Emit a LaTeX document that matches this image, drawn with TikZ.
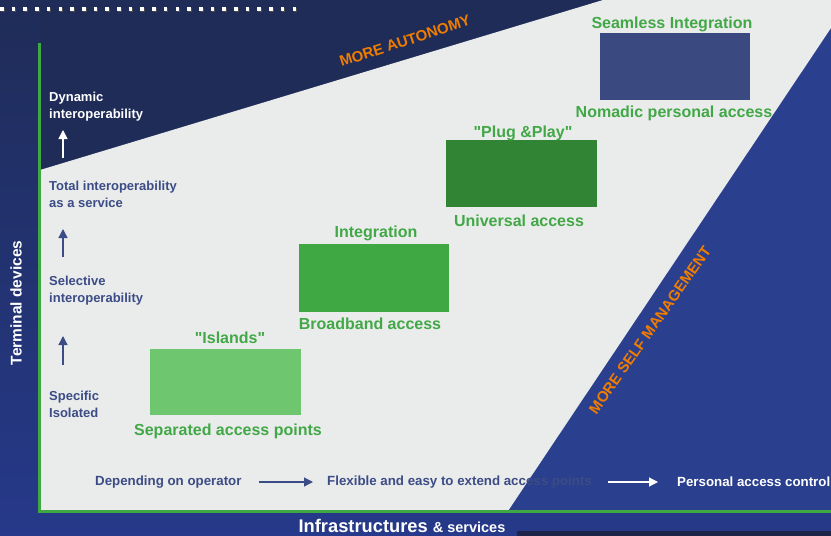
\documentclass[tikz,border=0pt]{standalone}
\usepackage{fontspec}
\setmainfont{Liberation Sans}
\usetikzlibrary{arrows.meta}
\definecolor{navybg}{HTML}{1F2C58}
\definecolor{bluebg}{HTML}{2A3F8D}
\definecolor{bluebot}{HTML}{26398A}
\definecolor{graybg}{HTML}{EAECEB}
\definecolor{axisgreen}{HTML}{3FA843}
\definecolor{navytext}{HTML}{3C4C86}
\definecolor{greentext}{HTML}{42A847}
\definecolor{orangetext}{HTML}{F07D00}
\definecolor{boxlight}{HTML}{6EC66E}
\definecolor{boxmid}{HTML}{3FA843}
\definecolor{boxdark}{HTML}{318433}
\definecolor{boxnavy}{HTML}{3A4A80}
\definecolor{darkstrip}{HTML}{1C2548}
\begin{document}
\begin{tikzpicture}[x=1pt,y=-1pt,
  lbl/.style={font=\fontsize{13}{17}\selectfont\bfseries, text=navytext, align=left, anchor=west, inner sep=0pt},
  glbl/.style={font=\fontsize{16}{18}\selectfont\bfseries, text=greentext, inner sep=0pt},
  stage/.style={draw=none, inner sep=0pt, anchor=north west},
  bottomlbl/.style={font=\fontsize{13.3}{15}\selectfont\bfseries, text=navytext, inner sep=0pt, anchor=west},
  orange/.style={font=\fontsize{15}{17}\selectfont\bfseries, text=orangetext, inner sep=0pt},
  arr/.style={-{Triangle[length=9pt,width=9pt]}, line width=1.3pt}]
\useasboundingbox (0,0) rectangle (831,536);
% background
\shade[top color=navybg, bottom color=bluebot] (0,0) rectangle (831,536);
\fill[navybg] (39,0) -- (831,0) -- (831,170) -- (39,170) -- cycle;
\fill[bluebg] (508,511) -- (831,511) -- (831,28) -- cycle;
\fill[graybg] (40,170) -- (603,0) -- (831,0) -- (831,28) -- (508,511) -- (40,511) -- cycle;
\fill[darkstrip] (517,531) rectangle (831,536);
% top dotted line
\draw[black!70, line width=3.6pt, dash pattern=on 3.6pt off 8.1pt] (1,10) -- (301,10);
\draw[white, line width=3.6pt, dash pattern=on 3.6pt off 8.1pt] (0,9) -- (300,9);
% axes
\draw[axisgreen, line width=3pt] (39,43) -- (39,511) -- (831,511);
\node[font=\fontsize{15.5}{17}\selectfont\bfseries, text=white, rotate=90, inner sep=0pt] (ydev) at (16,303) {Terminal devices};
\node[font=\bfseries, text=white, inner sep=0pt, anchor=base] (xinf) at (402,532) {\fontsize{18.3}{19}\selectfont Infrastructures \fontsize{14.5}{16}\selectfont\& services};
% orange labels
\node[orange, rotate=18] (auto) at (405,41) {MORE AUTONOMY};
\node[orange, rotate=55] (self) at (650,330) {MORE SELF MANAGEMENT};
% stage boxes
\node[stage, fill=boxlight, minimum width=151pt, minimum height=66pt] (islands) at (150,349) {};
\node[stage, fill=boxmid, minimum width=150pt, minimum height=68pt] (broad) at (299,244) {};
\node[stage, fill=boxdark, minimum width=151pt, minimum height=67pt] (univ) at (446,140) {};
\node[stage, fill=boxnavy, minimum width=150pt, minimum height=67pt] (seam) at (600,33) {};
% green labels
\node[glbl] (t1) at (230,338) {\textquotedbl Islands\textquotedbl};
\node[glbl] (b1) at (228,431) {Separated access points};
\node[glbl] (t2) at (376,233) {Integration};
\node[glbl] (b2) at (370,324) {Broadband access};
\node[glbl] (t3) at (523,133) {\textquotedbl Plug \&Play\textquotedbl};
\node[glbl] (b3) at (519,221) {Universal access};
\node[glbl] (t4) at (672,24) {Seamless Integration};
\node[glbl] (b4) at (674,113) {Nomadic personal access};
% left labels
\node[lbl, text=white] (l4) at (49,107) {Dynamic\\interoperability};
\node[lbl] (l3) at (49,194) {Total interoperability\\as a service};
\node[lbl] (l2) at (49,291) {Selective\\interoperability};
\node[lbl] (l1) at (49,404) {Specific\\Isolated};
\coordinate (a3s) at (63,158); \coordinate (a3e) at (63,130);
\coordinate (a2s) at (63,257); \coordinate (a2e) at (63,229);
\coordinate (a1s) at (63,365); \coordinate (a1e) at (63,336);
\draw[arr, white] (a3s) -- (a3e);
\draw[arr, navytext] (a2s) -- (a2e);
\draw[arr, navytext] (a1s) -- (a1e);
% bottom row
\node[bottomlbl] (dep) at (95,482) {Depending on operator};
\node[bottomlbl] (flex) at (327,482) {Flexible and easy to extend access points};
\node[bottomlbl, text=white] (pers) at (677,482) {Personal access control};
\draw[arr, navytext, shorten <=17pt, shorten >=14pt] (dep.east) -- (flex.west);
\draw[arr, white, shorten <=16pt, shorten >=19pt] (flex.east) -- (pers.west);
\end{tikzpicture}
\end{document}
